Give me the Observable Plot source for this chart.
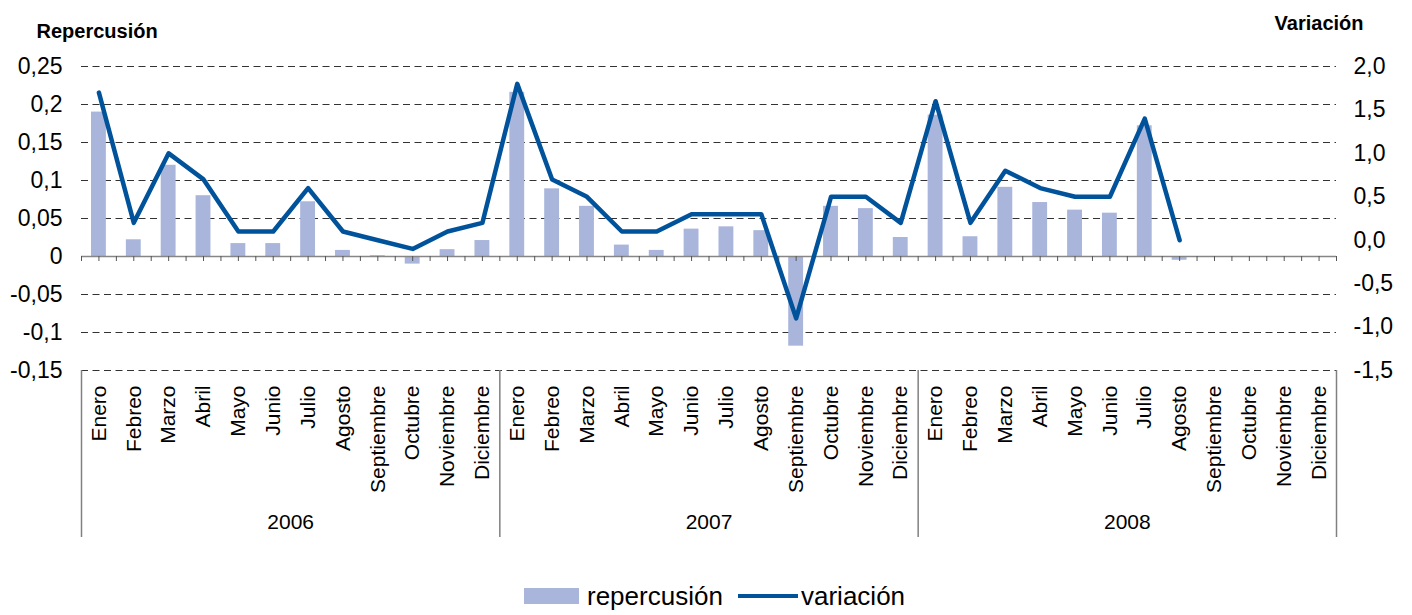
<!DOCTYPE html>
<html>
<head>
<meta charset="utf-8">
<script src="https://cdn.jsdelivr.net/npm/d3@7"></script>
<script src="https://cdn.jsdelivr.net/npm/@observablehq/plot@0.6"></script>
<style>
  html, body { margin: 0; padding: 0; background: #fff; }
  body { width: 1412px; height: 615px; overflow: hidden; font-family: "Liberation Sans", Arial, sans-serif; }
  #legend { position: relative; height: 35px; font-size: 26px; color: #000; }
  #legend .item { position: absolute; top: 0; display: flex; align-items: center; height: 32px; }
  #legend .bar { width: 55px; height: 16px; background: #a9b5db; margin-right: 8px; }
  #legend .line { width: 60px; height: 4px; background: #00539b; margin-right: 3px; }
</style>
</head>
<body>
<div id="chart"></div>
<div id="legend"></div>
<script>
const months = ["Enero","Febreo","Marzo","Abril","Mayo","Junio","Julio","Agosto","Septiembre","Octubre","Noviembre","Diciembre"];
const years = [2006, 2007, 2008];
const repercusion2006 = [0.190, 0.022, 0.120, 0.080, 0.017, 0.017, 0.072, 0.008, 0.001, -0.010, 0.009, 0.021];
const repercusion2007 = [0.216, 0.089, 0.066, 0.015, 0.008, 0.036, 0.039, 0.034, -0.118, 0.066, 0.063, 0.025];
const repercusion2008 = [0.186, 0.026, 0.091, 0.071, 0.061, 0.057, 0.172, -0.005, null, null, null, null];
const variacion2006 = [1.7, 0.2, 1.0, 0.7, 0.1, 0.1, 0.6, 0.1, 0.0, -0.1, 0.1, 0.2];
const variacion2007 = [1.8, 0.7, 0.5, 0.1, 0.1, 0.3, 0.3, 0.3, -0.9, 0.5, 0.5, 0.2];
const variacion2008 = [1.6, 0.2, 0.8, 0.6, 0.5, 0.5, 1.4, 0.0, null, null, null, null];
const leftTicks = [-0.15, -0.1, -0.05, 0, 0.05, 0.1, 0.15, 0.2, 0.25];
const rightTicks = [-1.5, -1.0, -0.5, 0, 0.5, 1.0, 1.5, 2.0];

const leftDomain = [leftTicks[0], leftTicks[leftTicks.length - 1]];
const rightDomain = [rightTicks[0], rightTicks[rightTicks.length - 1]];
// map right-axis values onto the left scale
const k = (leftDomain[1] - leftDomain[0]) / (rightDomain[1] - rightDomain[0]);
const toLeft = v => leftDomain[0] + (v - rightDomain[0]) * k;
const fromLeft = v => rightDomain[0] + (v - leftDomain[0]) / k;

const rep = [...repercusion2006, ...repercusion2007, ...repercusion2008];
const vari = [...variacion2006, ...variacion2007, ...variacion2008];
const data = rep.map((r, i) => ({i, rep: r, vari: vari[i], month: months[i % 12], year: years[Math.floor(i / 12)]}));
const n = data.length;
const yearData = years.map((y, j) => ({year: y, center: j * 12 + 5.5}));
const boundaries = d3.range(years.length + 1).map(j => j * 12 - 0.5);
const halfTicks = d3.range(-0.5, n - 0.5 + 0.01, 0.5);

const fmtLeft = d => d === 0 ? "0" : String(+d.toFixed(2)).replace(".", ",");
const fmtRight = d => { const v = Math.round(fromLeft(d) * 10) / 10; return (v === 0 ? 0 : v).toFixed(1).replace(".", ","); };

const font = "'Liberation Sans', Arial, sans-serif";

const chart = Plot.plot({
  width: 1412,
  height: 580,
  marginLeft: 81,
  marginRight: 76,
  marginTop: 66,
  marginBottom: 210,
  style: {fontFamily: font, color: "#000", background: "#fff"},
  x: {type: "linear", domain: [-0.5, n - 0.5], axis: null},
  y: {domain: leftDomain, axis: null},
  marks: [
    Plot.ruleY(leftTicks.filter(d => d !== 0), {stroke: "#333", strokeWidth: 1, strokeDasharray: "7,4.5"}),
    Plot.rect(data.filter(d => d.rep != null), {x1: d => d.i - 0.5, x2: d => d.i + 0.5, y1: 0, y2: "rep", fill: "#a9b5db", insetLeft: 10, insetRight: 10}),
    Plot.ruleY([0], {stroke: "#868686", strokeWidth: 1.5}),
    Plot.ruleX(halfTicks, {y1: 0, y2: 0, insetBottom: -5, stroke: "#555", strokeWidth: 1}),
    Plot.ruleX(boundaries, {y1: leftDomain[0], y2: leftDomain[0], insetBottom: -167, stroke: "#808080", strokeWidth: 1.5}),
    Plot.line(data.filter(d => d.vari != null), {x: "i", y: d => toLeft(d.vari), stroke: "#00539b", strokeWidth: 4.5, strokeLinejoin: "round", strokeLinecap: "round"}),
    Plot.axisY(leftTicks, {anchor: "left", tickSize: 0, tickPadding: 19, tickFormat: fmtLeft, fontSize: 23, label: null}),
    Plot.axisY(rightTicks.map(toLeft), {anchor: "right", tickSize: 0, tickPadding: 17, tickFormat: fmtRight, fontSize: 23, label: null}),
    Plot.axisX(d3.range(n), {anchor: "bottom", tickSize: 0, tickPadding: 15, tickRotate: -90, tickFormat: i => months[i % 12], fontSize: 21, label: null}),
    Plot.text(yearData, {x: "center", y: leftDomain[0], text: d => String(d.year), dy: 152, fontSize: 21, lineAnchor: "middle"}),
    Plot.text(["Repercusión"], {frameAnchor: "top-left", dx: -45, dy: -29, text: d => d, fontWeight: "bold", fontSize: 20, textAnchor: "start", lineAnchor: "bottom"}),
    Plot.text(["Variación"], {frameAnchor: "top-right", dx: 27, dy: -37, text: d => d, fontWeight: "bold", fontSize: 20, textAnchor: "end", lineAnchor: "bottom"})
  ]
});
document.getElementById("chart").appendChild(chart);

const legend = document.getElementById("legend");
legend.innerHTML = `<div class="item" style="left:524px"><span class="bar"></span><span>repercusión</span></div>` +
  `<div class="item" style="left:738px"><span class="line"></span><span>variación</span></div>`;
</script>
</body>
</html>
